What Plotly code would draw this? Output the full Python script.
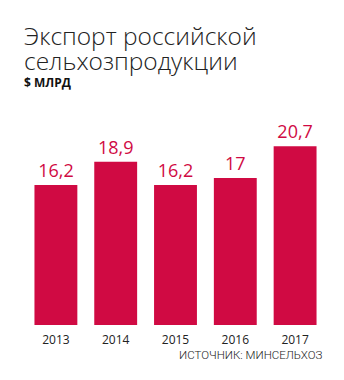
import plotly.graph_objects as go

years = ["2013", "2014", "2015", "2016", "2017"]
values = [16.2, 18.9, 16.2, 17.0, 20.7]
labels = [f"{v:g}".replace(".", ",") for v in values]

BAR = "#D00A43"
W, H = 344, 380
ml, mr, mt, mb = 25.5, 18.5, 109, 55
ph = H - mt - mb

def py(ypix):
    return (H - mb - ypix) / ph

def px(xpix):
    return (xpix - ml) / (W - ml - mr)

fig = go.Figure(go.Bar(
    x=years, y=values, marker=dict(color=BAR, line=dict(width=0)),
    text=labels, textposition="outside", cliponaxis=False,
    textfont=dict(family="Open Sans", size=18, color=BAR),
))

fig.update_layout(
    width=W, height=H, margin=dict(l=ml, r=mr, t=mt, b=mb),
    paper_bgcolor="white", plot_bgcolor="white",
    bargap=0.283, showlegend=False,
    xaxis=dict(showgrid=False, showline=False, ticks="", zeroline=False,
               ticklabelstandoff=6,
               tickfont=dict(family="Open Sans", size=12, color="#222")),
    yaxis=dict(range=[0, 25], visible=False),
    annotations=[
        dict(text="Экспорт российской", xref="paper", yref="paper",
             x=px(21), y=py(36), xanchor="left", yanchor="middle", showarrow=False,
             font=dict(family="Open Sans", size=24.5, color="#222", weight=300)),
        dict(text="сельхозпродукции", xref="paper", yref="paper",
             x=px(21), y=py(60), xanchor="left", yanchor="middle", showarrow=False,
             font=dict(family="Open Sans", size=24.5, color="#222", weight=300)),
        dict(text="<b>$ МЛРД</b>", xref="paper", yref="paper",
             x=px(21), y=py(83), xanchor="left", yanchor="middle", showarrow=False,
             font=dict(family="Open Sans", size=12, color="#111")),
        dict(text="ИСТОЧНИК: МИНСЕЛЬХОЗ", xref="paper", yref="paper",
             x=px(325), y=py(355), xanchor="right", yanchor="middle", showarrow=False,
             font=dict(family="Roboto", size=11.5, color="#222", weight=300)),
    ],
)

fig.write_html("out.html")
